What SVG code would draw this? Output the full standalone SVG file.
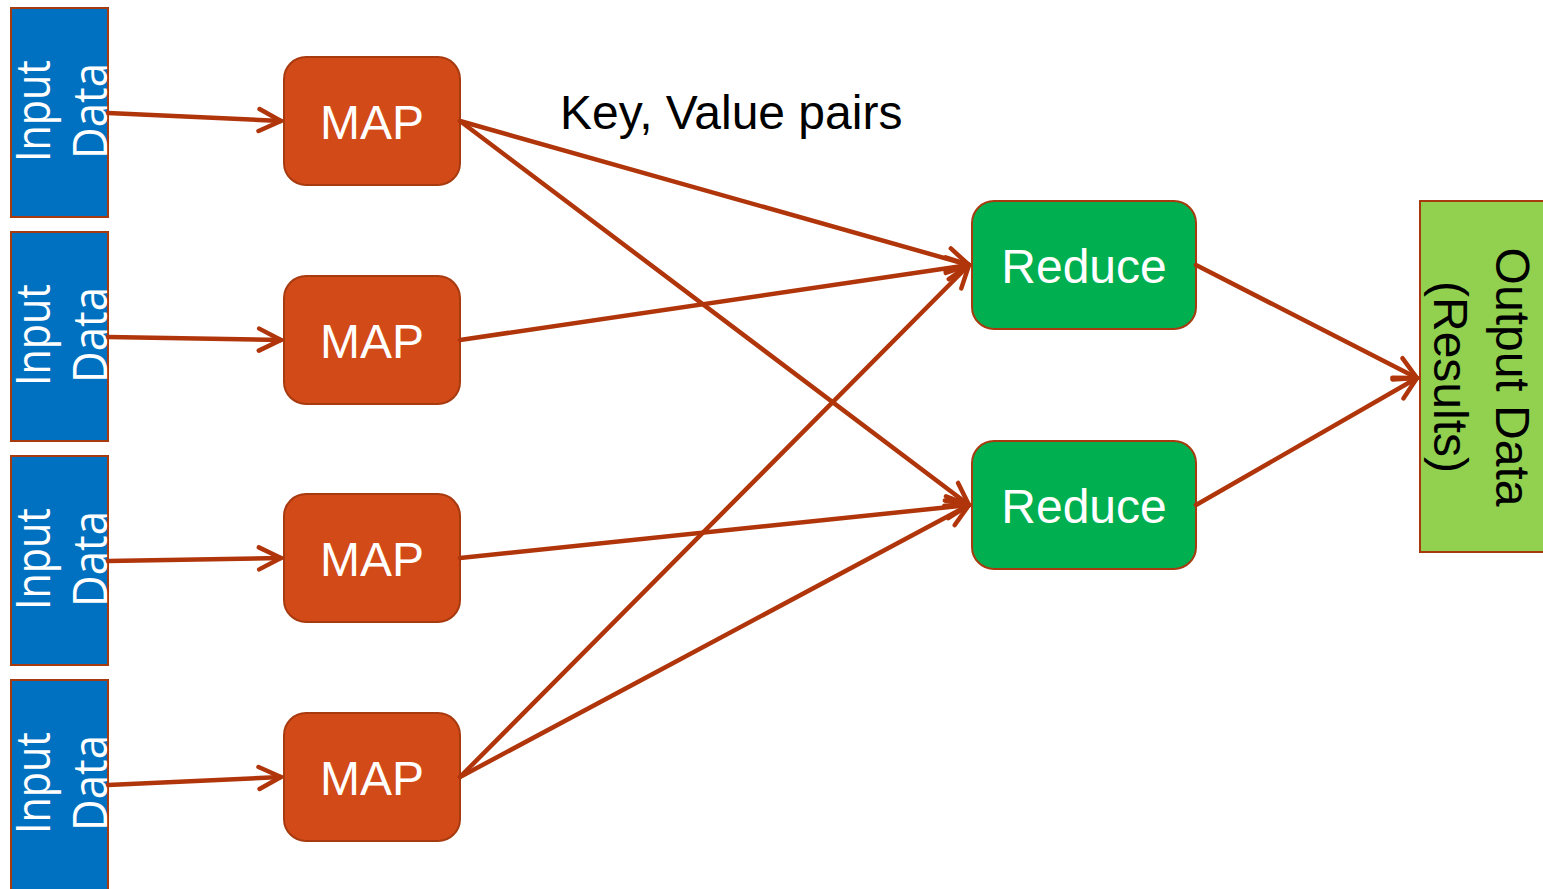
<svg xmlns="http://www.w3.org/2000/svg" width="1543" height="889" viewBox="0 0 1543 889">
  <style>
    .inp { fill: #0070C0; stroke: #A83A10; stroke-width: 2; }
    .map { fill: #D24A17; stroke: #A83A10; stroke-width: 2; }
    .red { fill: #00B050; stroke: #A83A10; stroke-width: 2; }
    .out { fill: #92D050; stroke: #A83A10; stroke-width: 2; }
    .inpT { font-family: "Open Sans", "Liberation Sans", sans-serif; font-size: 48px; fill: #ffffff; text-anchor: middle; }
    .boxT { font-family: "Liberation Sans", Arial, sans-serif; font-size: 48px; fill: #ffffff; text-anchor: middle; }
    .outT { font-family: "Liberation Sans", Arial, sans-serif; font-size: 48px; fill: #000000; text-anchor: middle; }
    .lbl { font-family: "Liberation Sans", Arial, sans-serif; font-size: 48px; fill: #000000; }
    .conn line { stroke: #B0350A; stroke-width: 4.5; stroke-linecap: round; }
  </style>
  <defs>
    <marker id="arrow" markerUnits="userSpaceOnUse" viewBox="0 0 28 28" refX="25" refY="14" markerWidth="28" markerHeight="28" orient="auto">
      <path d="M3,3 L25,14 L3,25" fill="none" stroke="#B0350A" stroke-width="4.5" stroke-linecap="round" stroke-linejoin="round"/>
    </marker>
  </defs>

  <!-- input blocks -->
  <g id="input1">
    <rect class="inp" x="11" y="8" width="97" height="209"/>
    <text class="inpT" transform="translate(50,111) rotate(-90)" textLength="102" lengthAdjust="spacingAndGlyphs">Input</text>
    <text class="inpT" transform="translate(107,111) rotate(-90)" textLength="96" lengthAdjust="spacingAndGlyphs">Data</text>
  </g>
  <g id="input2">
    <rect class="inp" x="11" y="232" width="97" height="209"/>
    <text class="inpT" transform="translate(50,335) rotate(-90)" textLength="102" lengthAdjust="spacingAndGlyphs">Input</text>
    <text class="inpT" transform="translate(107,335) rotate(-90)" textLength="96" lengthAdjust="spacingAndGlyphs">Data</text>
  </g>
  <g id="input3">
    <rect class="inp" x="11" y="456" width="97" height="209"/>
    <text class="inpT" transform="translate(50,559) rotate(-90)" textLength="102" lengthAdjust="spacingAndGlyphs">Input</text>
    <text class="inpT" transform="translate(107,559) rotate(-90)" textLength="96" lengthAdjust="spacingAndGlyphs">Data</text>
  </g>
  <g id="input4">
    <rect class="inp" x="11" y="680" width="97" height="215"/>
    <text class="inpT" transform="translate(50,783) rotate(-90)" textLength="102" lengthAdjust="spacingAndGlyphs">Input</text>
    <text class="inpT" transform="translate(107,783) rotate(-90)" textLength="96" lengthAdjust="spacingAndGlyphs">Data</text>
  </g>

  <!-- map tasks -->
  <g id="map1">
    <rect class="map" x="284" y="57" width="176" height="128" rx="22"/>
    <text class="boxT" x="372" y="139">MAP</text>
  </g>
  <g id="map2">
    <rect class="map" x="284" y="276" width="176" height="128" rx="22"/>
    <text class="boxT" x="372" y="358">MAP</text>
  </g>
  <g id="map3">
    <rect class="map" x="284" y="494" width="176" height="128" rx="22"/>
    <text class="boxT" x="372" y="576">MAP</text>
  </g>
  <g id="map4">
    <rect class="map" x="284" y="713" width="176" height="128" rx="22"/>
    <text class="boxT" x="372" y="795">MAP</text>
  </g>

  <!-- reduce tasks -->
  <g id="reduce1">
    <rect class="red" x="972" y="201" width="224" height="128" rx="22"/>
    <text class="boxT" x="1084" y="283">Reduce</text>
  </g>
  <g id="reduce2">
    <rect class="red" x="972" y="441" width="224" height="128" rx="22"/>
    <text class="boxT" x="1084" y="523">Reduce</text>
  </g>

  <!-- output -->
  <g id="output">
    <rect class="out" x="1420" y="201" width="130" height="351"/>
    <text class="outT" transform="translate(1496,377) rotate(90)">Output Data</text>
    <text class="outT" transform="translate(1434,377) rotate(90)">(Results)</text>
  </g>

  <g id="label">
    <text class="lbl" x="560" y="129">Key, Value pairs</text>
  </g>

  <!-- connectors -->
  <g class="conn" id="connectors">
    <line x1="108" y1="113" x2="281" y2="121" marker-end="url(#arrow)"/>
    <line x1="108" y1="337" x2="281" y2="340" marker-end="url(#arrow)"/>
    <line x1="108" y1="561" x2="281" y2="558" marker-end="url(#arrow)"/>
    <line x1="108" y1="785" x2="281" y2="777" marker-end="url(#arrow)"/>
    <line x1="460" y1="121" x2="969" y2="265" marker-end="url(#arrow)"/>
    <line x1="460" y1="121" x2="969" y2="505" marker-end="url(#arrow)"/>
    <line x1="460" y1="340" x2="969" y2="265" marker-end="url(#arrow)"/>
    <line x1="460" y1="558" x2="969" y2="505" marker-end="url(#arrow)"/>
    <line x1="460" y1="777" x2="969" y2="265" marker-end="url(#arrow)"/>
    <line x1="460" y1="777" x2="969" y2="505" marker-end="url(#arrow)"/>
    <line x1="1196" y1="265" x2="1417" y2="378" marker-end="url(#arrow)"/>
    <line x1="1196" y1="505" x2="1417" y2="378" marker-end="url(#arrow)"/>
  </g>
</svg>
